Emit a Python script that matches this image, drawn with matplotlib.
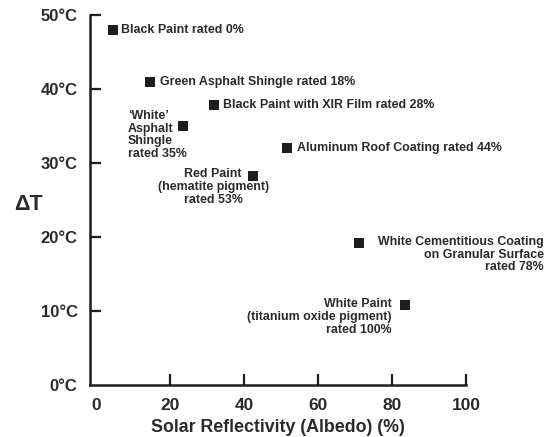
import matplotlib
matplotlib.use("Agg")
import matplotlib.pyplot as plt

# Data
labels = [
    "Black Paint rated 0%",
    "Green Asphalt Shingle rated 18%",
    "Black Paint with XIR Film rated 28%",
    "\u2018White\u2019\nAsphalt\nShingle\nrated 35%",
    "Aluminum Roof Coating rated 44%",
    "Red Paint\n(hematite pigment)\nrated 53%",
    "White Cementitious Coating\non Granular Surface\nrated 78%",
    "White Paint\n(titanium oxide pigment)\nrated 100%",
]
reflectivity = [4.5, 14.5, 32.0, 23.5, 51.5, 42.5, 71.0, 83.5]
delta_t = [48.0, 41.0, 37.8, 35.0, 32.0, 28.2, 19.2, 10.8]

xticks = [0, 20, 40, 60, 80, 100]
yticks = [0, 10, 20, 30, 40, 50]
ytick_labels = [f"{v}°C" for v in yticks]

# Label placement (offset pixels, ha, va, multialignment)
placements = [
    ((8, 0), "left", "center", "left"),
    ((10, 0), "left", "center", "left"),
    ((9, 0), "left", "center", "left"),
    ((-55, 16), "left", "top", "left"),
    ((10, 0), "left", "center", "left"),
    ((-40, 8), "center", "top", "center"),
    ((185, 7), "right", "top", "right"),
    ((-13, 7), "right", "top", "right"),
]

plt.rcParams['font.family'] = ['Liberation Sans', 'DejaVu Sans']

col = "#1e1e1e"
tcol = "#2a2a2a"
fig = plt.figure(figsize=(5.52, 4.37), dpi=100)
ax = fig.add_axes([90 / 552, 1 - 385 / 437, (466 - 90) / 552, (385 - 15) / 437])

ax.scatter(reflectivity, delta_t, marker="s", s=42, color=col, zorder=3, linewidths=0)

for x, y, lab, (off, ha, va, ma) in zip(reflectivity, delta_t, labels, placements):
    ax.annotate(lab, (x, y), xytext=off, textcoords="offset pixels",
                ha=ha, va=va, multialignment=ma, fontsize=8.9, fontweight="bold",
                color=tcol, linespacing=1.08, annotation_clip=False)

ax.set_xlim(-1.6, 100)
ax.set_ylim(0, 50)
ax.set_xticks(xticks)
ax.set_xticklabels([str(v) for v in xticks], fontsize=12.5, fontweight="bold", color=tcol)
ax.set_yticks(yticks)
ax.set_yticklabels(ytick_labels, fontsize=12, fontweight="bold", color=tcol)
ax.tick_params(direction="in", length=8, width=1.6, color=col, pad=9)
ax.tick_params(axis="x", pad=9)
ax.xaxis.get_major_ticks()[0].tick1line.set_visible(False)
ax.yaxis.get_major_ticks()[0].tick1line.set_visible(False)

for s in ["top", "right"]:
    ax.spines[s].set_visible(False)
for s in ["left", "bottom"]:
    ax.spines[s].set_linewidth(1.8)
    ax.spines[s].set_color(col)

ax.set_xlabel("Solar Reflectivity (Albedo) (%)", fontsize=12.8, fontweight="bold",
              color=tcol, labelpad=5)
fig.text(28 / 552, 1 - 205 / 437, "ΔT", fontsize=15.5, fontweight="bold",
         color=tcol, ha="center", va="center")

fig.savefig("out.png", dpi=100)
